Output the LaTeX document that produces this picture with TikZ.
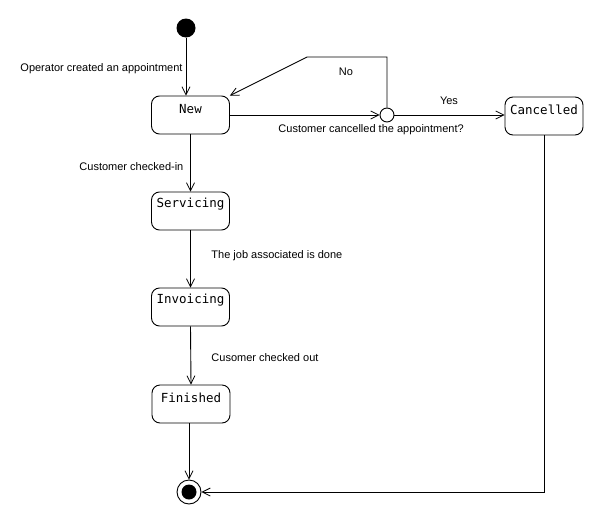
\documentclass[tikz,border=0pt]{standalone}
\usepackage{fontspec}
\setmainfont{Liberation Sans}
\newfontfamily\statefont{DejaVu Sans Mono}
\usetikzlibrary{arrows.meta}
\begin{document}
\begin{tikzpicture}[x=1pt,y=-1pt,
  line width=0.9pt,
  stbox/.style={draw, rounded corners=8pt, minimum width=78pt, minimum height=38pt, inner sep=0pt},
  sttext/.style={font=\statefont\fontsize{12.5}{14}\selectfont, inner sep=0pt, yshift=-13pt},
  lbl/.style={font=\fontsize{11}{13}\selectfont, inner sep=0pt},
  arr/.style={-{Straight Barb[length=8pt,width=8pt,line width=0.8pt]}}]
\useasboundingbox (0,0) rectangle (605,525);

% pseudo-states
\node[circle, fill, inner sep=0pt, minimum size=19pt] (init) at (186,28) {};
\node[circle, draw, inner sep=0pt, minimum size=14pt] (dec) at (387,115) {};
\node[circle, draw, inner sep=0pt, minimum size=24pt] (final) at (189,492) {};
\node[circle, fill, inner sep=0pt, minimum size=15pt] (finalcore) at (189,492) {};

% states
\node[stbox] (new) at (190.5,115) {};
\node[sttext] (newtxt) at (new.north) {New};
\node[stbox] (canc) at (544,116) {};
\node[sttext] (canctxt) at (canc.north) {Cancelled};
\node[stbox] (serv) at (190.5,211) {};
\node[sttext] (servtxt) at (serv.north) {Servicing};
\node[stbox] (inv) at (190.5,307) {};
\node[sttext] (invtxt) at (inv.north) {Invoicing};
\node[stbox] (fin) at (191,404) {};
\node[sttext] (fintxt) at (fin.north) {Finished};

% loop corners
\coordinate (noA) at (387,57);
\coordinate (noB) at (307,57);

% transitions
\draw[arr] (init) -- (init |- new.north);
\draw[arr] (new.east |- dec) -- (dec.west);
\draw[arr] (dec.north) -- (noA) -- (noB) -- (new.north east);
\draw[arr] (dec.east) -- (dec.east -| canc.west);
\draw[arr] (new.south) -- (serv.north);
\draw[arr] (serv.south) -- (inv.north);
\draw[arr] (inv.south) -- (fin.north);
\draw[arr] (fin.south -| final) -- (final.north);
\draw[arr] (canc.south) -- (canc.south |- final) -- (final.east);

% transition labels
\node[lbl, anchor=west] (l1) at (20,69) {Operator created an appointment};
\node[lbl] (l2) at (346,72) {No};
\node[lbl] (l3) at (449,101) {Yes};
\node[lbl, anchor=west] (l4) at (278,130) {Customer cancelled the appointment?};
\node[lbl, anchor=west] (l5) at (79,167) {Customer checked-in};
\node[lbl, anchor=west] (l6) at (211,256) {The job associated is done};
\node[lbl, anchor=west] (l7) at (211,358) {Cusomer checked out};
\end{tikzpicture}
\end{document}
